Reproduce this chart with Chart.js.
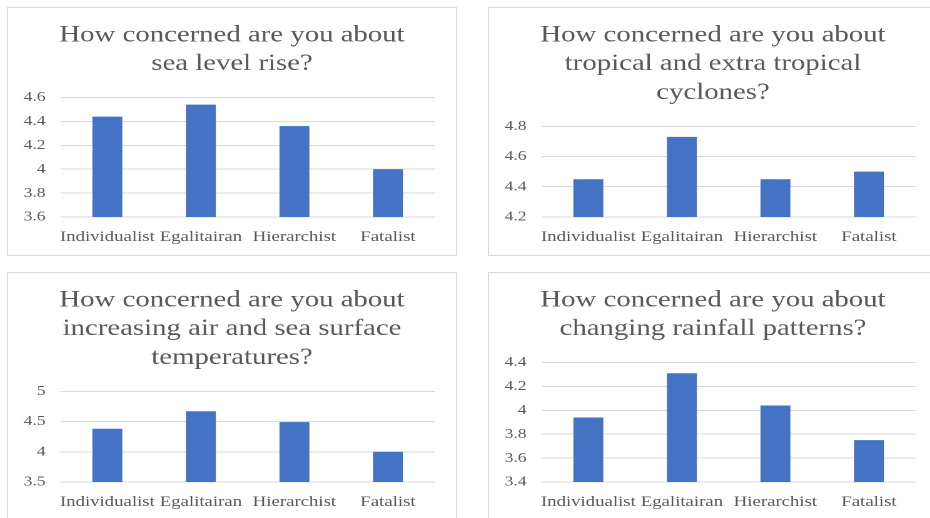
<!DOCTYPE html>
<html>
<head>
<meta charset="utf-8">
<script src="https://cdn.jsdelivr.net/npm/chart.js@4"></script>
<style>
  html, body { margin: 0; padding: 0; background: #fff; }
  body { width: 930px; height: 518px; position: relative; overflow: hidden; }
  .panel {
    position: absolute;
    width: 450px;
    height: 249px;
    border: 1px solid #d9d9d9;
    box-sizing: border-box;
  }
  /* the source picture is stretched sideways, so the canvas is too */
  .panel canvas { width: 448px !important; height: 247px !important; }
</style>
</head>
<body>
<div class="panel" style="left:7px; top:7px"><canvas id="seaLevel" width="358" height="247"></canvas></div>
<div class="panel" style="left:488px; top:7px"><canvas id="cyclones" width="358" height="247"></canvas></div>
<div class="panel" style="left:7px; top:272px"><canvas id="temperature" width="358" height="247"></canvas></div>
<div class="panel" style="left:488px; top:272px"><canvas id="rainfall" width="358" height="247"></canvas></div>

<script>
const categories = ["Individualist", "Egalitairan", "Hierarchist", "Fatalist"]

const seaLevelTitle    = ["How concerned are you about", "sea level rise?"]
const cyclonesTitle    = ["How concerned are you about", "tropical and extra tropical", "cyclones?"]
const temperatureTitle = ["How concerned are you about", "increasing air and sea surface", "temperatures?"]
const rainfallTitle    = ["How concerned are you about", "changing rainfall patterns?"]

const seaLevelValues    = [4.44, 4.54, 4.36, 4.00]
const cyclonesValues    = [4.45, 4.73, 4.45, 4.50]
const temperatureValues = [4.38, 4.67, 4.49, 4.00]
const rainfallValues    = [3.94, 4.31, 4.04, 3.75]

const seaLevelTicks    = [3.6, 3.8, 4, 4.2, 4.4, 4.6]
const cyclonesTicks    = [4.2, 4.4, 4.6, 4.8]
const temperatureTicks = [3.5, 4, 4.5, 5]
const rainfallTicks    = [3.4, 3.6, 3.8, 4, 4.2, 4.4]

const barColor  = "#4472C4"
const gridColor = "#d9d9d9"
const textColor = "#595959"
const serif     = "'Liberation Serif', 'Times New Roman', serif"

function drawPanel(id, title, values, ticks) {
  const canvas = document.getElementById(id)
  canvas.style.width = "448px"
  canvas.style.height = "247px"

  return new Chart(canvas, {
    type: "bar",
    data: {
      labels: categories,
      datasets: [{
        data: values,
        backgroundColor: barColor,
        borderWidth: 0,
        barPercentage: 0.32,
        categoryPercentage: 1
      }]
    },
    options: {
      responsive: false,
      animation: false,
      devicePixelRatio: 2,
      layout: { padding: 0 },
      plugins: {
        legend: { display: false },
        tooltip: { enabled: false },
        title: {
          display: true,
          text: title,
          color: textColor,
          font: { family: serif, size: 23, weight: "normal", lineHeight: 1.25 },
          padding: { top: 13, bottom: 19 }
        }
      },
      scales: {
        x: {
          afterFit: scale => { scale.height = 38 },
          grid:   { display: false, drawTicks: false },
          border: { display: false },
          ticks:  {
            color: textColor,
            font: { family: serif, size: 15 },
            padding: 11,
            maxRotation: 0,
            autoSkip: false
          }
        },
        y: {
          min: ticks[0],
          max: ticks[ticks.length - 1],
          afterBuildTicks: scale => {
            scale.ticks = ticks.map(v => ({ value: v }))
          },
          afterFit: scale => { scale.width = 42 },
          grid:   { color: gridColor, lineWidth: 1, drawTicks: false },
          border: { display: false },
          ticks:  {
            color: textColor,
            font: { family: serif, size: 14 },
            padding: 12,
            callback: v => String(v)
          }
        },
        // empty right-hand margin so the title stays centred on the panel
        margin: {
          type: "linear",
          position: "right",
          afterFit: scale => { scale.width = 17 },
          grid:   { display: false, drawTicks: false },
          border: { display: false },
          ticks:  { display: false }
        }
      }
    }
  })
}

drawPanel("seaLevel", seaLevelTitle, seaLevelValues, seaLevelTicks)
drawPanel("cyclones", cyclonesTitle, cyclonesValues, cyclonesTicks)
drawPanel("temperature", temperatureTitle, temperatureValues, temperatureTicks)
drawPanel("rainfall", rainfallTitle, rainfallValues, rainfallTicks)
</script>
</body>
</html>
